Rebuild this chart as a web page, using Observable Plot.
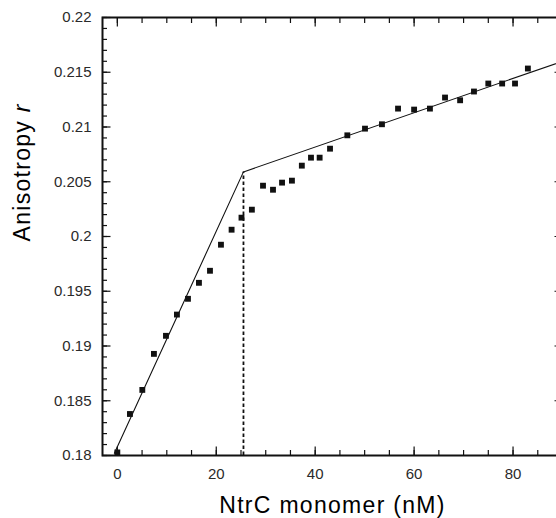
<!DOCTYPE html>
<html>
<head>
<meta charset="utf-8">
<script src="https://cdn.jsdelivr.net/npm/d3@7"></script>
<script src="https://cdn.jsdelivr.net/npm/@observablehq/plot@0.6"></script>
<style>
  html, body { margin: 0; padding: 0; background: #fff; overflow: hidden; }
  #chart svg { display: block; max-width: none !important; width: 566px; height: 518px; }
  #chart svg, #chart svg text { font-family: "Liberation Sans", Arial, Helvetica, sans-serif !important; }
</style>
</head>
<body>
<div id="chart"></div>
<script>
// Measured data: NtrC monomer concentration (nM) vs anisotropy r
const conc = [0, 2.55, 5.05, 7.4, 9.83, 12.05, 14.28, 16.5, 18.73, 20.95, 23.1, 25.1,
  27.2, 29.45, 31.47, 33.3, 35.3, 37.3, 39.15, 40.9, 43.0, 46.5, 50.07, 53.5, 56.75,
  60.0, 63.2, 66.25, 69.3, 72.1, 75.0, 77.8, 80.4, 83.0];
const aniso = [0.18028, 0.18379, 0.18599, 0.18928, 0.19093, 0.19287, 0.19431, 0.19577,
  0.19687, 0.19925, 0.20062, 0.20172, 0.20245, 0.20464, 0.20427, 0.20492, 0.2051,
  0.20647, 0.2072, 0.2072, 0.20802, 0.20924, 0.20985, 0.21025, 0.21168, 0.21159,
  0.21168, 0.21269, 0.21244, 0.21324, 0.21397, 0.21397, 0.21397, 0.21534];

// Two-segment fit (break point = stoichiometric point)
const fitX = [-0.6, 25.5, 90];
const fitY = [0.1802, 0.2059, 0.2160];

// Axes
const xDomain = [-3, 90];
const yDomain = [0.18, 0.22];
const xMajorTicks = [0, 20, 40, 60, 80];
const xMinorTicks = [0, 5, 10, 15, 20, 25, 30, 35, 40, 45, 50, 55, 60, 65, 70, 75, 80, 85, 90];
const yMajorTicks = [0.18, 0.185, 0.19, 0.195, 0.2, 0.205, 0.21, 0.215, 0.22];
const yMinorTicks = d3.range(0, 41).map(i => +(0.18 + i * 0.001).toFixed(3));
const xTitle = "NtrC monomer (nM)";
const yTitle = "Anisotropy r";

const points = conc.map((c, i) => ({c, r: aniso[i]}));
const fit = fitX.map((x, i) => ({x, y: fitY[i]}));

const ink = "#111";
const tickW = 1.2;
const fmtY = d => String(+d.toFixed(3));

const plot = Plot.plot({
  width: 566,
  height: 518,
  marginLeft: 102,
  marginRight: 4,
  marginTop: 17,
  marginBottom: 63,
  style: {fontFamily: "'Liberation Sans', Arial, Helvetica, sans-serif", fontSize: "15px", color: "#2a2a2a", background: "#fff"},
  x: {domain: xDomain},
  y: {domain: yDomain},
  marks: [
    // tick labels
    Plot.axisY({anchor: "left", ticks: yMajorTicks, tickSize: 0, tickPadding: 11, tickFormat: fmtY, label: null}),
    Plot.axisX({anchor: "bottom", ticks: xMajorTicks, tickSize: 0, tickPadding: 13, tickFormat: d => String(d), label: null}),
    // inward ticks: left
    Plot.axisY({anchor: "left", ticks: yMinorTicks, tickSize: 5, dx: 5, fill: "none", stroke: ink, strokeWidth: tickW, label: null}),
    Plot.axisY({anchor: "left", ticks: yMajorTicks, tickSize: 8.5, dx: 8.5, fill: "none", stroke: ink, strokeWidth: tickW, label: null}),
    // right
    Plot.axisY({anchor: "right", ticks: yMinorTicks, tickSize: 5, dx: -5, fill: "none", stroke: ink, strokeWidth: tickW, label: null}),
    Plot.axisY({anchor: "right", ticks: yMajorTicks, tickSize: 8.5, dx: -8.5, fill: "none", stroke: ink, strokeWidth: tickW, label: null}),
    // bottom
    Plot.axisX({anchor: "bottom", ticks: xMinorTicks, tickSize: 5, dy: -5, fill: "none", stroke: ink, strokeWidth: tickW, label: null}),
    Plot.axisX({anchor: "bottom", ticks: xMajorTicks, tickSize: 8.5, dy: -8.5, fill: "none", stroke: ink, strokeWidth: tickW, label: null}),
    // top
    Plot.axisX({anchor: "top", ticks: xMinorTicks, tickSize: 5, dy: 5, fill: "none", stroke: ink, strokeWidth: tickW, label: null}),
    Plot.axisX({anchor: "top", ticks: xMajorTicks, tickSize: 8.5, dy: 8.5, fill: "none", stroke: ink, strokeWidth: tickW, label: null}),
    // dashed break line
    Plot.ruleX([fit[1]], {x: "x", y1: yDomain[0], y2: "y", stroke: ink, strokeWidth: 1.8, strokeDasharray: "3.5,2.5"}),
    // fit lines
    Plot.line(fit, {x: "x", y: "y", stroke: ink, strokeWidth: 1.1}),
    // data
    Plot.dot(points, {x: "c", y: "r", symbol: "square", r: 3.3, fill: ink, stroke: "none"}),
    Plot.frame({stroke: ink, strokeWidth: 2}),
    // titles
    Plot.text([xTitle], {frameAnchor: "bottom", dy: 57.5, lineAnchor: "bottom", fontSize: 23, fill: "#000"}),
    Plot.text([yTitle], {frameAnchor: "left", rotate: -90, dx: -80, dy: 5, fontSize: 23, fill: "#000"})
  ]
});

document.getElementById("chart").appendChild(plot);

// Italic "r" in the y title, and letter spacing for titles
d3.select(plot).selectAll("text").each(function() {
  const t = d3.select(this);
  const s = t.text();
  if (s === yTitle) {
    t.text("Anisotropy ");
    t.append("tspan").attr("font-style", "italic").text("r");
    t.attr("letter-spacing", "1.3px");
  } else if (s === xTitle) {
    t.attr("letter-spacing", "1.3px");
  }
});
</script>
</body>
</html>
